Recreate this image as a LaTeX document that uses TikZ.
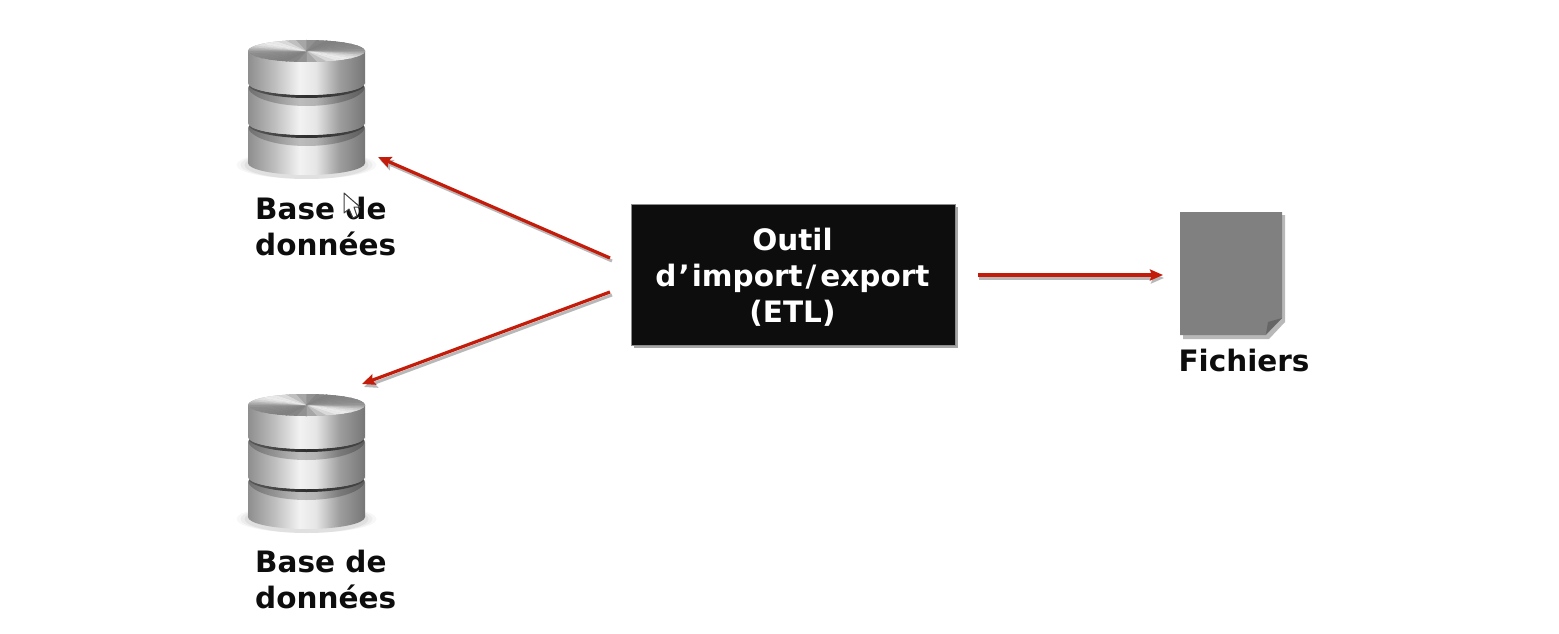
\documentclass[tikz,border=0pt]{standalone}
\usepackage{fontspec}
\setmainfont{DejaVu Sans}
\usetikzlibrary{arrows.meta}
\definecolor{arrowred}{RGB}{196,28,10}
\pgfdeclarehorizontalshading{metal}{100bp}{
 color(0bp)=(black!58);color(3bp)=(black!46);color(12bp)=(black!34);color(24bp)=(black!46);
 color(36bp)=(black!26);color(47bp)=(black!5);color(54bp)=(black!10);color(64bp)=(black!38);
 color(76bp)=(black!55);color(86bp)=(black!32);color(95bp)=(black!48);color(100bp)=(black!66)}
\pgfdeclarehorizontalshading{groove}{100bp}{
 color(0bp)=(black!40);color(18bp)=(black!60);color(50bp)=(black!82);color(75bp)=(black!72);color(100bp)=(black!40)}
\tikzset{
  lbl/.style={font=\fontsize{29.5}{36}\selectfont\bfseries,text=black!95,inner sep=0pt,align=left,anchor=west},
  etlbox/.style={fill=black!95,draw=black!45,line width=.5pt,minimum width=324pt,minimum height=141pt,inner sep=0pt},
  etllabel/.style={font=\fontsize{29.5}{36}\selectfont\bfseries,text=white,align=center,inner sep=0pt},
  shadowbox/.style={fill=black!35,draw=none,minimum width=324pt,minimum height=141pt,inner sep=0pt},
  conn/.style={draw=arrowred,line width=3.2pt,-{Stealth[length=13pt,width=11pt,inset=2pt]}},
  connshadow/.style={draw=black!28,line width=3pt,-{Stealth[length=13pt,width=11pt,inset=2pt]}},
  sidewall/.style={shading=metal},
  grooveband/.style={shading=groove},
}
% one stacked disc: top y, bottom y at its rim (local)
\newcommand{\dbdisc}[2]{%
  \path[sidewall] (-58.5,#1) -- (-58.5,#2) arc[start angle=180,end angle=0,x radius=58.5,y radius=12] -- (58.5,#1) -- cycle;
}
% shaded groove under the disc whose rim is at #1
\newcommand{\dbgroove}[1]{%
  \fill[black,opacity=.22] (-58.5,#1) arc[start angle=180,end angle=0,x radius=58.5,y radius=12] -- (58.5,#1+3) arc[start angle=0,end angle=180,x radius=58.5,y radius=20] -- cycle;
  \path[grooveband] (-58.5,#1) arc[start angle=180,end angle=0,x radius=58.5,y radius=12] -- (58.5,#1+1) arc[start angle=0,end angle=180,x radius=58.5,y radius=14] -- cycle;
  \fill[white] (-59,#1) -- (-56.5,#1) -- (-59,#1+6) -- cycle;
  \fill[white] (59,#1) -- (56.5,#1) -- (59,#1+6) -- cycle;
}
\newcommand{\dbicon}[3]{%
  \begin{scope}[shift={(#2,#3)}]
    \coordinate (#1) at (0,0);
    \foreach \r/\o in {70/.03,66/.04,62/.05}{\fill[black,opacity=\o] (0,125) ellipse[x radius=\r,y radius=14];}
    \dbdisc{83}{123}
    \dbgroove{83}
    \dbdisc{43}{83}
    \dbgroove{43}
    \dbdisc{11}{43}
    \begin{scope}
      \clip (0,11) ellipse[x radius=58.5,y radius=11];
      \fill[black!35] (-60,-2) rectangle (60,24);
      \foreach \a in {0,10,...,350}{
        \pgfmathsetmacro{\g}{int(34-20*cos(2*(\a-40))+6*cos(4*\a))}
        \fill[black!\g,draw=black!\g,line width=.2pt,yscale=.19] (0,58) -- ++(\a:62) arc[start angle=\a,delta angle=10.5,radius=62] -- cycle;
      }
    \end{scope}
  \end{scope}
}
\begin{document}
\begin{tikzpicture}[x=1pt,y=-1pt]
\useasboundingbox[fill=white] (0,0) rectangle (1559,634);

% databases
\dbicon{dbA}{306.5}{40}
\dbicon{dbB}{306.5}{394}

% connector ends
\coordinate (aS) at (610,258);
\coordinate (aE) at (378,157);
\coordinate (bS) at (610,292);
\coordinate (bE) at (362,384);
\coordinate (cS) at (978,275);
\coordinate (cE) at (1163,275);

% shadows of the connectors
\draw[connshadow] ([shift={(2,3)}]aS) -- ([shift={(2,3)}]aE);
\draw[connshadow] ([shift={(2,3)}]bS) -- ([shift={(2,3)}]bE);
\draw[connshadow] ([shift={(1,3)}]cS) -- ([shift={(1,3)}]cE);

% central box
\node[shadowbox] (etlshadow) at (795.5,277.5) {};
\node[etlbox] (etl) at (793,274.5) {};
\node[etllabel] (etltext) at (792.5,277.5) {Outil\\d\kern2pt ’\kern2pt import\kern3pt/\kern4pt export\\(ETL)};

% connectors
\draw[conn] (aS) -- (aE);
\draw[conn] (bS) -- (bE);
\draw[conn] (cS) -- (cE);

% file icon
\fill[black!28] (1183,215) -- (1285,215) -- (1285,322) -- (1269,339) -- (1183,339) -- cycle;
\fill[black!50] (1180,212) -- (1282,212) -- (1282,318) -- (1266,335) -- (1180,335) -- cycle;
\fill[black!60] (1266,334) -- (1268,322) -- (1282,318) -- cycle;
\coordinate (file) at (1231,273);

% labels
\node[lbl] (labA) at (255,227) {Base de\\données};
\node[lbl] (labB) at (255,579) {Base de\\données};
\node[lbl,anchor=center] (labC) at (1244,360) {Fichiers};

% mouse pointer
\draw[fill=white,draw=black!75,line width=1pt,line join=round]
  (344,193) -- (344,213) -- (349,209) -- (353,218) -- (357,216) -- (354,207) -- (360,207) -- cycle;
\end{tikzpicture}
\end{document}
